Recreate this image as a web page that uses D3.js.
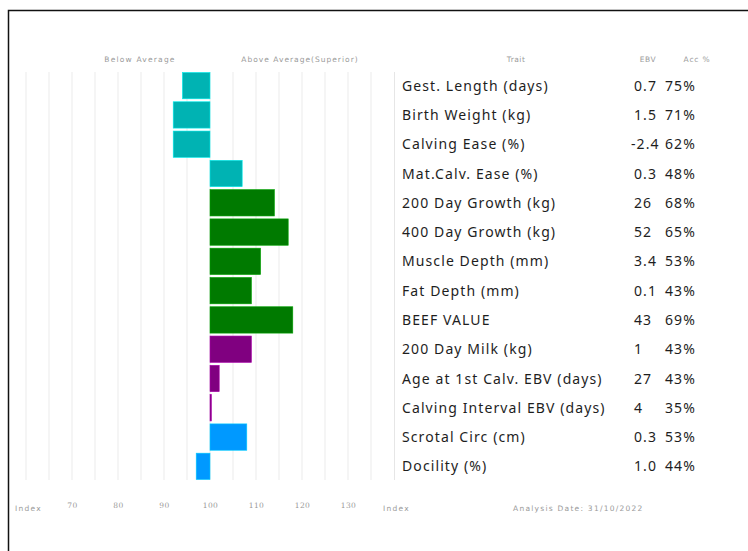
<!DOCTYPE html>
<html><head><meta charset="utf-8">
<script src="https://cdn.jsdelivr.net/npm/d3@7"></script>
<style>body{margin:0;background:#fff}svg{display:block}</style>
</head><body>
<script>
const traits = ["Gest. Length (days)","Birth Weight (kg)","Calving Ease (%)","Mat.Calv. Ease (%)","200 Day Growth (kg)","400 Day Growth (kg)","Muscle Depth (mm)","Fat Depth (mm)","BEEF VALUE","200 Day Milk (kg)","Age at 1st Calv. EBV (days)","Calving Interval EBV (days)","Scrotal Circ (cm)","Docility (%)"];
const indexValues = [94, 92, 92, 107, 114, 117, 111, 109, 118, 109, 102, 100.3, 108, 97];
const ebv = ["0.7","1.5","-2.4","0.3","26","52","3.4","0.1","43","1","27","4","0.3","1.0"];
const acc = ["75%","71%","62%","48%","68%","65%","53%","43%","69%","43%","43%","35%","53%","44%"];
const groups = ["calving","calving","calving","calving","growth","growth","growth","growth","growth","maternal","maternal","maternal","fertility","temperament"];
const tickValues = [70,80,90,100,110,120,130];
const gridValues = [60,65,70,75,80,85,90,95,100,105,110,115,120,125,130,135];

const W = 748, H = 551;
const svg = d3.select("body").append("svg").attr("width", W).attr("height", H);

const color = d3.scaleOrdinal()
  .domain(["calving","growth","maternal","fertility","temperament"])
  .range(["#00b3b3","#007a00","#800080","#0099ff","#0099ff"]);

const x = d3.scaleLinear().domain([100, 130]).range([210, 348]);
const y = d3.scaleBand().domain(traits).range([71, 481]).paddingInner(0.1).paddingOuter(0.05);

// frame
svg.append("path").attr("d", `M8.5,${H} L8.5,10.5 L${W},10.5`).attr("fill","none").attr("stroke","#111").attr("stroke-width",1.5);

// grid
svg.append("g").selectAll("line").data(gridValues).join("line")
  .attr("x1", d => x(d)).attr("x2", d => x(d))
  .attr("y1", 72).attr("y2", 480)
  .attr("stroke", "#ebebeb").attr("stroke-width", 1);

// headers
const hdr = (tx, ty, s, ls) => svg.append("text").attr("x", tx).attr("y", ty).attr("text-anchor","middle")
  .attr("font-family","DejaVu Sans").attr("font-size","7.5px").attr("fill","#9a9a9a").attr("letter-spacing", ls).text(s);
hdr(140, 62, "Below Average", 1.2);
hdr(300, 62, "Above Average(Superior)", 1.0);
hdr(516, 62, "Trait", 0.5);
hdr(648, 62, "EBV", 0.5);
hdr(697, 62, "Acc %", 0.8);

// bars
svg.append("g").selectAll("rect").data(traits).join("rect")
  .attr("x", (d,i) => x(Math.min(100, indexValues[i])))
  .attr("width", (d,i) => Math.abs(x(indexValues[i]) - x(100)))
  .attr("y", d => y(d))
  .attr("height", y.bandwidth())
  .attr("fill", (d,i) => color(groups[i]))
  .attr("stroke", (d,i) => d3.color(color(groups[i])).brighter(0.8))
  .attr("stroke-width", 0.6);

// table separator
svg.append("line").attr("x1",394.5).attr("x2",394.5).attr("y1",72).attr("y2",480).attr("stroke","#e6e6e6");

// table text
const rows = svg.append("g").attr("font-family","'Noto Sans', sans-serif").attr("font-size","14px").attr("fill","#1e1e1e").attr("letter-spacing","1.1");
rows.selectAll("text.trait").data(traits).join("text").attr("class","trait")
  .attr("x", 402).attr("y", d => y(d) + y.bandwidth()/2).attr("dy","0.36em").text(d => d);
rows.selectAll("text.ebv").data(traits).join("text").attr("class","ebv")
  .attr("x", (d,i) => ebv[i].startsWith("-") ? 631 : 634).attr("y", d => y(d) + y.bandwidth()/2).attr("dy","0.36em").text((d,i) => ebv[i]);
rows.selectAll("text.acc").data(traits).join("text").attr("class","acc")
  .attr("x", 665).attr("y", d => y(d) + y.bandwidth()/2).attr("dy","0.36em").text((d,i) => acc[i]);

// bottom axis
const axis = d3.axisBottom(x).tickValues(tickValues).tickSize(0).tickPadding(0);
const ag = svg.append("g").attr("transform","translate(0,503)").call(axis);
ag.select(".domain").remove();
ag.selectAll("text").attr("font-family","DejaVu Serif").attr("font-size","7.5px").attr("fill","#9a9a9a").attr("letter-spacing","0.4");

const foot = (tx, s) => svg.append("text").attr("x", tx).attr("y", 511).attr("font-family","DejaVu Sans").attr("font-size","7.5px").attr("fill","#9a9a9a").attr("letter-spacing","1.25").text(s);
foot(15, "Index");
foot(383, "Index");
foot(513, "Analysis Date: 31/10/2022");
</script>
</body></html>
